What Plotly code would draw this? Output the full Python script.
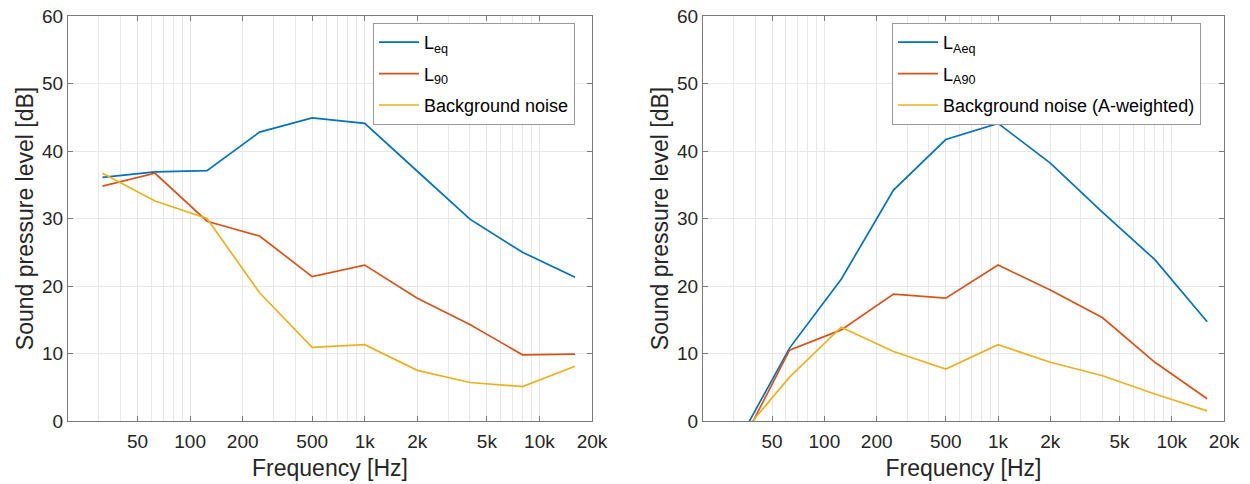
import plotly.graph_objects as go

# Octave band centre frequencies [Hz]
freq = [31.5, 63, 125, 250, 500, 1000, 2000, 4000, 8000, 16000]

# Unweighted levels [dB]
leq = [36.1, 36.9, 37.1, 42.8, 44.9, 44.1, 37.0, 29.9, 25.0, 21.3]
l90 = [34.8, 36.7, 29.6, 27.4, 21.4, 23.1, 18.2, 14.3, 9.8, 9.9]
background = [36.7, 32.6, 30.0, 19.0, 10.9, 11.3, 7.5, 5.7, 5.1, 8.1]

# A-weighted levels [dB]
laeq = [-3.3, 10.8, 21.0, 34.2, 41.7, 44.1, 38.2, 30.9, 23.9, 14.7]
la90 = [-4.6, 10.5, 13.5, 18.8, 18.2, 23.1, 19.4, 15.3, 8.7, 3.3]
background_a = [-2.7, 6.5, 13.9, 10.3, 7.7, 11.3, 8.7, 6.7, 4.0, 1.5]

# Axis ticks
x_tick_vals = [50, 100, 200, 500, 1000, 2000, 5000, 10000, 20000]
x_tick_text = ["50", "100", "200", "500", "1k", "2k", "5k", "10k", "20k"]
x_grid_vals = [m * 10 ** e for e in (1, 2, 3) for m in range(2, 10)]
y_tick_vals = [0, 10, 20, 30, 40, 50, 60]

BLUE, ORANGE, YELLOW = "#0072BD", "#D95319", "#EDB120"
FONT = "Liberation Sans, Arial, Helvetica, sans-serif"
TEXT = "#262626"
AXIS = "#7a7a7a"
GRID = "#e8e8e8"

fig = go.Figure()

left = [
    ("L<sub>eq</sub>", leq, BLUE),
    ("L<sub>90</sub>", l90, ORANGE),
    ("Background noise", background, YELLOW),
]
right = [
    ("L<sub>Aeq</sub>", laeq, BLUE),
    ("L<sub>A90</sub>", la90, ORANGE),
    ("Background noise (A-weighted)", background_a, YELLOW),
]

for i, (name, vals, col) in enumerate(left):
    fig.add_trace(go.Scatter(
        x=freq, y=vals, mode="lines", name=name,
        line=dict(color=col, width=1.7),
        xaxis="x", yaxis="y", legend="legend", legendgroup=f"l{i}",
    ))
for i, (name, vals, col) in enumerate(right):
    fig.add_trace(go.Scatter(
        x=freq, y=vals, mode="lines", name=name,
        line=dict(color=col, width=1.7),
        xaxis="x2", yaxis="y2", legend="legend2", legendgroup=f"r{i}",
    ))

W, H = 1250, 484
ml, mr, mt, mb = 68, 26, 16, 63
pw = W - ml - mr
ph = H - mt - mb


def px_x(x):
    return (x - ml) / pw


def px_y(y):
    return (H - mb - y) / ph


xaxis_common = dict(
    type="log",
    range=[1.30103, 4.30103],
    tickmode="array", tickvals=x_tick_vals, ticktext=x_tick_text,
    ticks="inside", ticklen=5, tickcolor=AXIS, tickwidth=1,
    showline=True, linecolor=AXIS, linewidth=1, mirror="ticks",
    showgrid=True, gridcolor=GRID, gridwidth=1,
    minor=dict(tickmode="array", tickvals=x_grid_vals, showgrid=True,
               gridcolor=GRID, gridwidth=1, ticks=""),
    zeroline=False,
    automargin=False,
    ticklabelstandoff=3,
    tickfont=dict(family=FONT, size=19, color=TEXT),
    title=dict(text="Frequency [Hz]", font=dict(family=FONT, size=23, color=TEXT), standoff=9),
)
yaxis_common = dict(
    range=[0, 60],
    tickmode="array", tickvals=y_tick_vals,
    ticks="inside", ticklen=5, tickcolor=AXIS, tickwidth=1,
    showline=True, linecolor=AXIS, linewidth=1, mirror="ticks",
    showgrid=True, gridcolor=GRID, gridwidth=1,
    zeroline=False,
    automargin=False,
    tickfont=dict(family=FONT, size=19, color=TEXT),
    title=dict(text="Sound pressure level [dB]", font=dict(family=FONT, size=23, color=TEXT), standoff=2),
)

legend_common = dict(
    xanchor="left", yanchor="top",
    bgcolor="white", bordercolor="#9a9a9a", borderwidth=1,
    font=dict(family=FONT, size=18, color="#000000"),
    itemwidth=40, tracegroupgap=5,
)

fig.update_layout(
    width=W, height=H,
    margin=dict(l=ml, r=mr, t=mt, b=mb),
    paper_bgcolor="white", plot_bgcolor="white",
    showlegend=True,
    xaxis=dict(domain=[0, px_x(592)], anchor="y", **xaxis_common),
    yaxis=dict(domain=[0, 1], anchor="x", **yaxis_common),
    xaxis2=dict(domain=[px_x(703), 1], anchor="y2", **xaxis_common),
    yaxis2=dict(domain=[0, 1], anchor="x2", **yaxis_common),
    legend=dict(x=px_x(373), y=px_y(23), **legend_common),
    legend2=dict(x=px_x(892), y=px_y(23), **legend_common),
)

fig.write_html("out.html")
